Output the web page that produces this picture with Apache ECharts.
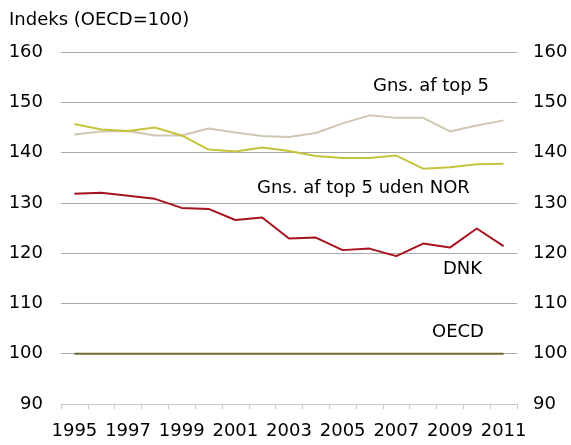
<!DOCTYPE html>
<html>
<head>
<meta charset="utf-8">
<script src="https://cdn.jsdelivr.net/npm/echarts@6/dist/echarts.min.js"></script>
<style>
  html, body { margin: 0; padding: 0; background: #fff; }
  #main { width: 571px; height: 445px; }
</style>
</head>
<body>
<div id="main"></div>
<script>
// Indeks (OECD=100)
var years = ['1995','1996','1997','1998','1999','2000','2001','2002','2003','2004','2005','2006','2007','2008','2009','2010','2011'];
var top5 = [143.6,144.2,144.3,143.4,143.4,144.8,144.0,143.3,143.1,143.9,145.8,147.4,146.9,146.9,144.2,145.4,146.4];
var top5UdenNor = [145.7,144.6,144.3,145.0,143.4,140.6,140.2,141.0,140.3,139.3,138.9,138.9,139.4,136.8,137.1,137.7,137.8];
var dnk = [131.8,132.0,131.4,130.8,129.0,128.8,126.6,127.1,122.9,123.1,120.6,120.9,119.4,121.9,121.1,124.9,121.4];
var oecd = [100,100,100,100,100,100,100,100,100,100,100,100,100,100,100,100,100];

var fontFam = '"DejaVu Sans", Verdana, sans-serif';

var myChart = echarts.init(document.getElementById('main'));

function yAxisDef(pos){
  return {
    type: 'value',
    position: pos,
    min: 90,
    max: 160,
    interval: 10,
    axisLine: {show: false},
    axisTick: {show: false},
    axisLabel: {
      color: '#000',
      fontSize: 18,
      fontFamily: fontFam,
      margin: pos == 'left' ? 18 : 16
    },
    splitLine: {
      show: pos == 'left',
      lineStyle: {color: '#a9a9a9', width: 1}
    }
  };
}

var option = {
  animation: false,
  backgroundColor: '#fff',
  grid: {left: 61, right: 54, top: 52, bottom: 41},
  xAxis: {
    type: 'category',
    data: years,
    boundaryGap: true,
    axisLine: {lineStyle: {color: '#c8c8c8', width: 1}},
    axisTick: {show: true, interval: 0, length: 5, lineStyle: {color: '#c8c8c8'}},
    axisLabel: {
      interval: 1,
      color: '#000',
      fontSize: 18,
      fontFamily: fontFam,
      margin: 18
    },
    splitLine: {show: false}
  },
  yAxis: [yAxisDef('left'), yAxisDef('right')],
  series: [
    {
      name: 'OECD',
      type: 'line',
      data: oecd,
      symbol: 'none',
      lineStyle: {color: '#6e6b2e', width: 2},
      z: 3
    },
    {
      name: 'Gns. af top 5',
      type: 'line',
      data: top5,
      symbol: 'none',
      lineStyle: {color: '#d0c7b0', width: 2}
    },
    {
      name: 'Gns. af top 5 uden NOR',
      type: 'line',
      data: top5UdenNor,
      symbol: 'none',
      lineStyle: {color: '#c6c23c', width: 2}
    },
    {
      name: 'DNK',
      type: 'line',
      data: dnk,
      symbol: 'none',
      lineStyle: {color: '#a6121d', width: 2}
    }
  ],
  graphic: [
    {type: 'text', left: 9, top: 11, style: {text: 'Indeks (OECD=100)', fontSize: 18, fontFamily: fontFam, fill: '#000'}},
    {type: 'text', left: 373, top: 77, style: {text: 'Gns. af top 5', fontSize: 18, fontFamily: fontFam, fill: '#000'}},
    {type: 'text', left: 257, top: 179, style: {text: 'Gns. af top 5 uden NOR', fontSize: 18, fontFamily: fontFam, fill: '#000'}},
    {type: 'text', left: 443, top: 260, style: {text: 'DNK', fontSize: 18, fontFamily: fontFam, fill: '#000'}},
    {type: 'text', left: 432, top: 323, style: {text: 'OECD', fontSize: 18, fontFamily: fontFam, fill: '#000'}}
  ]
};

myChart.setOption(option);
</script>
</body>
</html>
